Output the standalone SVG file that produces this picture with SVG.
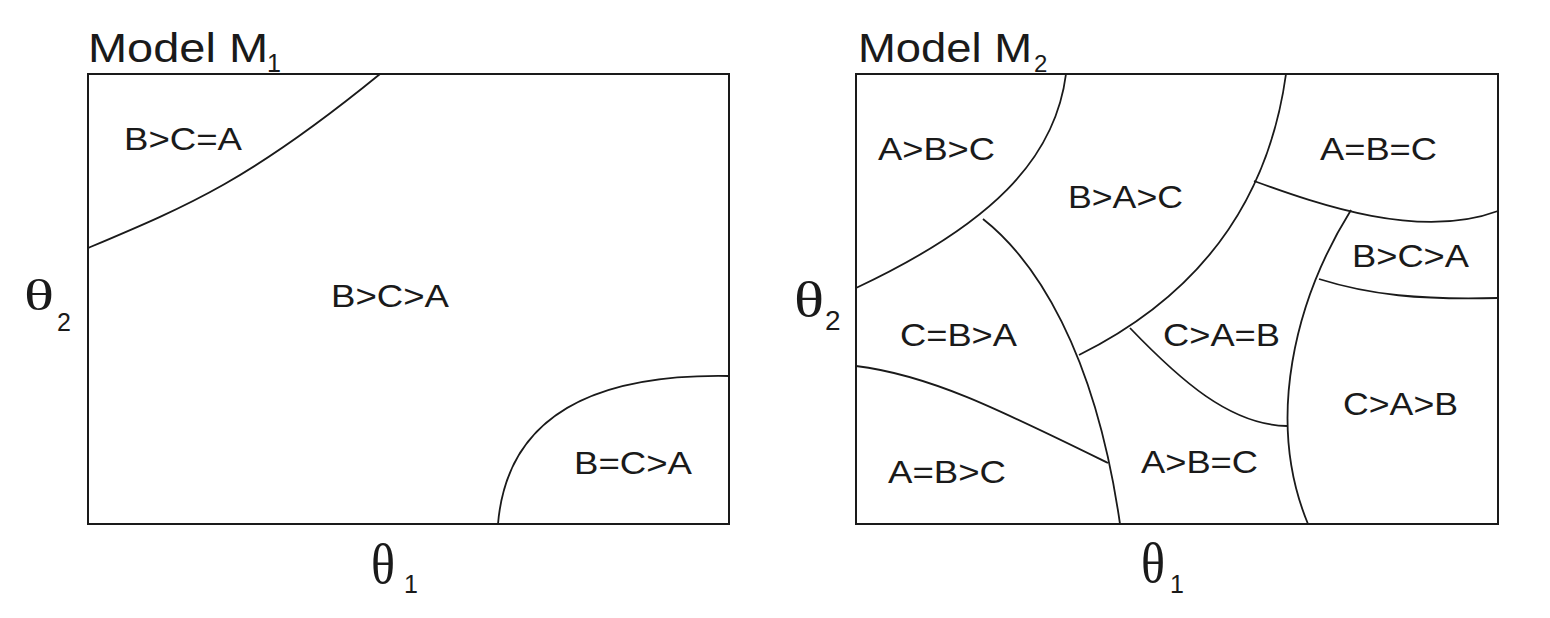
<svg xmlns="http://www.w3.org/2000/svg" width="1550" height="618" viewBox="0 0 1550 618">
<style>
.frame{fill:none;stroke:#1a1a1a;stroke-width:2}
.curve{fill:none;stroke:#1a1a1a;stroke-width:1.8}
.lbl{font-family:"Liberation Sans",Arial,sans-serif;font-size:31px;fill:#1a1a1a}
.title{font-family:"Liberation Sans",Arial,sans-serif;font-size:40px;fill:#1a1a1a}
.sub{font-family:"Liberation Sans",Arial,sans-serif;fill:#1a1a1a}
.th{font-family:"Liberation Serif","Times New Roman",serif;fill:#1a1a1a}
</style>
<rect width="1550" height="618" fill="#ffffff"/>
<g id="panel-m1">
  <text class="title" x="88" y="62" textLength="180" lengthAdjust="spacingAndGlyphs">Model M</text>
  <text class="sub" x="267" y="72" style="font-size:25px">1</text>
  <rect class="frame" x="88" y="74" width="641" height="450"/>
  <text class="th" x="24" y="310" style="font-size:44px" textLength="30" lengthAdjust="spacingAndGlyphs">θ</text>
  <text class="sub" x="57" y="331" style="font-size:25px">2</text>
  <text class="th" x="371" y="583" style="font-size:58px" textLength="24" lengthAdjust="spacingAndGlyphs">θ</text>
  <text class="sub" x="404" y="593" style="font-size:25px">1</text>
</g>
<g id="panel-m2">
  <text class="title" x="858" y="62" textLength="174" lengthAdjust="spacingAndGlyphs">Model M</text>
  <text class="sub" x="1034" y="72" style="font-size:24px">2</text>
  <rect class="frame" x="856" y="74" width="642" height="450"/>
  <text class="th" x="794" y="317" style="font-size:50px" textLength="30" lengthAdjust="spacingAndGlyphs">θ</text>
  <text class="sub" x="825" y="330" style="font-size:28px">2</text>
  <text class="th" x="1141" y="582" style="font-size:57px" textLength="24" lengthAdjust="spacingAndGlyphs">θ</text>
  <text class="sub" x="1170" y="593" style="font-size:25px">1</text>
</g>
<g id="connectors">
  <path class="curve" d="M88,248 C190,205 250,180 380,74"/>
  <path class="curve" d="M498,524 C505,440 560,373 729,376"/>
  <path class="curve" d="M1066,74 C1055,160 990,225 856,288"/>
  <path class="curve" d="M983,219 C1035,260 1095,350 1120,524"/>
  <path class="curve" d="M1286,74 C1270,190 1210,290 1079,355"/>
  <path class="curve" d="M1130,328 C1180,380 1230,425 1287,426"/>
  <path class="curve" d="M1351,210 C1295,300 1265,420 1308,524"/>
  <path class="curve" d="M1254,181 C1320,205 1420,240 1498,211"/>
  <path class="curve" d="M1319,279 C1370,295 1420,300 1498,298"/>
  <path class="curve" d="M856,366 C930,375 1000,410 1108,463"/>
</g>
<g id="region-m1-bca"><text class="lbl" x="124" y="150" textLength="118" lengthAdjust="spacingAndGlyphs">B&gt;C=A</text></g>
<g id="region-m1-bca2"><text class="lbl" x="331" y="307" textLength="118" lengthAdjust="spacingAndGlyphs">B&gt;C&gt;A</text></g>
<g id="region-m1-bca3"><text class="lbl" x="574" y="474" textLength="118" lengthAdjust="spacingAndGlyphs">B=C&gt;A</text></g>
<g id="region-m2-abc"><text class="lbl" x="878" y="160" textLength="117" lengthAdjust="spacingAndGlyphs">A&gt;B&gt;C</text></g>
<g id="region-m2-bac"><text class="lbl" x="1068" y="208" textLength="115" lengthAdjust="spacingAndGlyphs">B&gt;A&gt;C</text></g>
<g id="region-m2-aeq"><text class="lbl" x="1320" y="160" textLength="117" lengthAdjust="spacingAndGlyphs">A=B=C</text></g>
<g id="region-m2-bca"><text class="lbl" x="1352" y="267" textLength="117" lengthAdjust="spacingAndGlyphs">B&gt;C&gt;A</text></g>
<g id="region-m2-cba"><text class="lbl" x="900" y="346" textLength="117" lengthAdjust="spacingAndGlyphs">C=B&gt;A</text></g>
<g id="region-m2-abc2"><text class="lbl" x="888" y="483" textLength="118" lengthAdjust="spacingAndGlyphs">A=B&gt;C</text></g>
<g id="region-m2-cab"><text class="lbl" x="1163" y="346" textLength="117" lengthAdjust="spacingAndGlyphs">C&gt;A=B</text></g>
<g id="region-m2-cab2"><text class="lbl" x="1343" y="415" textLength="115" lengthAdjust="spacingAndGlyphs">C&gt;A&gt;B</text></g>
<g id="region-m2-abc3"><text class="lbl" x="1141" y="473" textLength="117" lengthAdjust="spacingAndGlyphs">A&gt;B=C</text></g>
</svg>
